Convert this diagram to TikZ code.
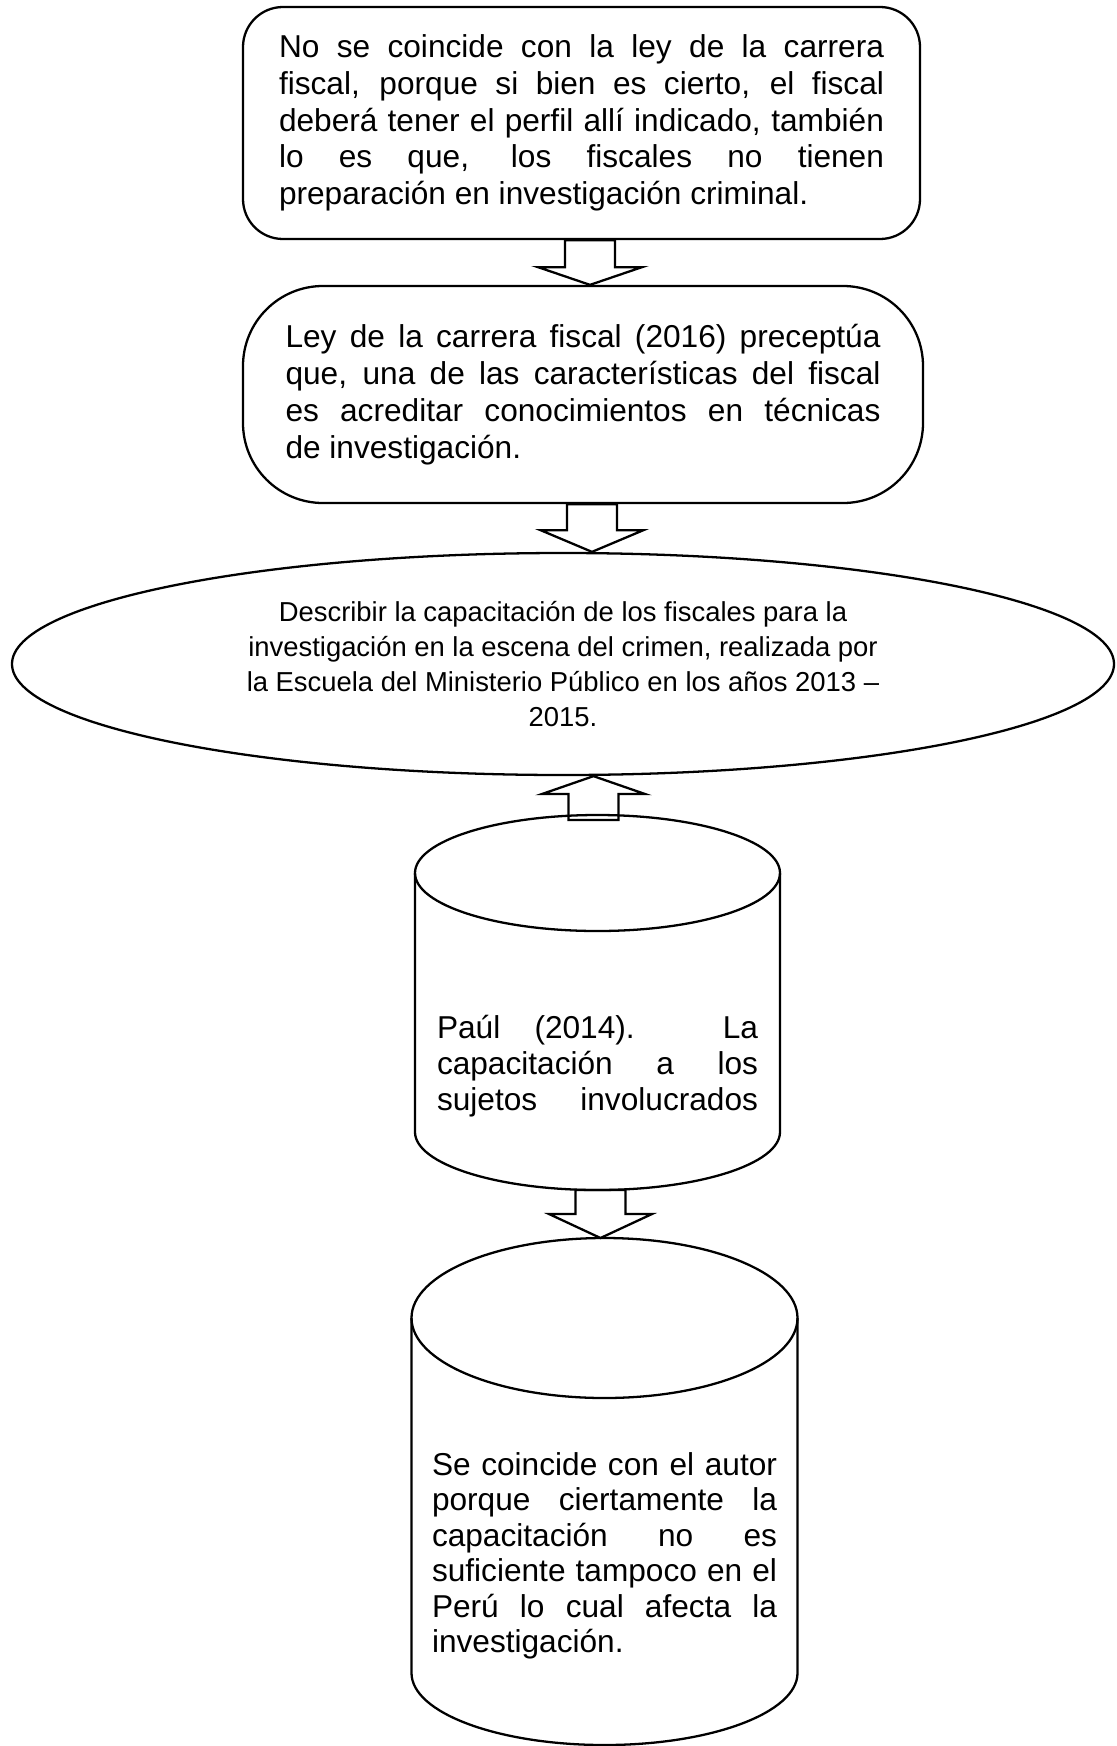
\documentclass[tikz,border=0pt]{standalone}
\usepackage{fontspec}
\setmainfont{Liberation Sans}
\usetikzlibrary{calc, shapes.geometric}
\usetikzlibrary{positioning}

\begin{document}
\begin{tikzpicture}[line width=1.3pt,
        caja/.style={rectangle, draw, align=justify},
        texto/.style={align=justify, font={\fontsize{18}{20.4}\selectfont}},
        flecha/.style={draw, line join=miter}]
        \useasboundingbox (0,0) rectangle (22.34,-34.92);

        % critique of the law
        \node[caja, rounded corners=0.8cm, minimum width=13.54cm, minimum height=4.64cm, text width=12.1cm, font={\fontsize{18}{20.9}\selectfont}] (critica) at (11.63,-2.46) {No se coincide con la ley de la carrera\linebreak fiscal, porque si bien es cierto, el fiscal\linebreak deberá tener el perfil allí indicado, también\linebreak lo es que, los fiscales no tienen\linebreak preparación en investigación criminal.};

        % law
        \node[caja, rounded corners=1.6cm, minimum width=13.6cm, minimum height=4.34cm, text width=11.9cm, font={\fontsize{18}{21}\selectfont}] (ley) at ($(critica) + (0.03,-5.43)$) {Ley de la carrera fiscal (2016) preceptúa\linebreak que, una de las características del fiscal\linebreak es acreditar conocimientos en técnicas\linebreak de investigación.};

        % critique to law
        \draw[flecha] ($(critica.south) + (-0.33,0)$) -- ($(critica.south) + (-0.33,-0.54)$) -- ($(critica.south) + (-0.87,-0.54)$) -- ($(ley.north) + (0.14,0)$) -- ($(critica.south) + (1.21,-0.54)$) -- ($(critica.south) + (0.67,-0.54)$) -- ($(critica.south) + (0.67,0)$) -- cycle;

        % objective
        \node[ellipse, draw, inner sep=0pt, minimum width=22.04cm, minimum height=4.44cm, align=center, font={\fontsize{15.6}{19.9}\selectfont}] (objetivo) at ($(ley) + (-0.40,-5.39)$) {Describir la capacitación de los fiscales para la\\ investigación en la escena del crimen, realizada por\\ la Escuela del Ministerio Público en los años 2013 –\\ 2015.};

        % law to objective
        \draw[flecha] ($(ley.south) + (-0.32,0)$) -- ($(ley.south) + (-0.32,-0.52)$) -- ($(ley.south) + (-0.85,-0.52)$) -- ($(objetivo.north) + (0.58,0)$) -- ($(ley.south) + (1.21,-0.52)$) -- ($(ley.south) + (0.68,-0.52)$) -- ($(ley.south) + (0.68,0)$) -- cycle;

        % antecedent
        \node[texto, text width=6.42cm] (paul) at ($(objetivo) + (0.69,-8.04)$) {Paúl (2014). La\linebreak capacitación a los\linebreak sujetos\hfill involucrados};
        \draw ($(paul) + (-3.65,3.86)$) -- ($(paul) + (-3.65,-1.32)$) arc[start angle=180, end angle=360, x radius=3.65, y radius=1.16] -- ($(paul) + (3.65,3.86)$);
        \draw ($(paul) + (0,3.86)$) ellipse [x radius=3.65, y radius=1.16];

        % antecedent to objective
        \draw[flecha] ($(paul) + (-0.58,4.92)$) -- ($(paul) + (-0.58,5.44)$) -- ($(paul) + (-1.11,5.44)$) -- ($(objetivo.south) + (0.61,0)$) -- ($(paul) + (0.95,5.44)$) -- ($(paul) + (0.42,5.44)$) -- ($(paul) + (0.42,4.92)$) -- cycle;

        % agreement with the author
        \node[texto, text width=6.9cm, font={\fontsize{18}{20.2}\selectfont}] (autor) at ($(paul) + (0.14,-9.80)$) {Se coincide con el autor\linebreak porque ciertamente la\linebreak capacitación no es\linebreak suficiente tampoco en el\linebreak Perú lo cual afecta la\linebreak investigación.};
        \draw ($(autor) + (-3.86,4.76)$) -- ($(autor) + (-3.86,-2.34)$) arc[start angle=180, end angle=360, x radius=3.86, y radius=1.44] -- ($(autor) + (3.86,4.76)$);
        \draw ($(autor) + (0,4.76)$) ellipse [x radius=3.86, y radius=1.60];

        % antecedent to agreement
        \draw[flecha] ($(paul) + (-0.44,-2.48)$) -- ($(paul) + (-0.44,-2.96)$) -- ($(paul) + (-0.97,-2.96)$) -- ($(autor) + (-0.08,6.36)$) -- ($(paul) + (1.09,-2.96)$) -- ($(paul) + (0.56,-2.96)$) -- ($(paul) + (0.56,-2.48)$) -- cycle;

\end{tikzpicture}
\end{document}
